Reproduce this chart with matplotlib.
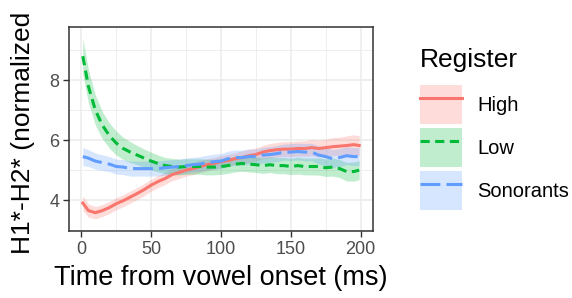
"""
H1*-H2* trajectories by register, with confidence ribbons (ggplot theme_bw look).
"""

import numpy as np
import matplotlib.pyplot as plt
from matplotlib.patches import Patch
from matplotlib.lines import Line2D
from matplotlib.ticker import MultipleLocator

plt.rcParams["font.family"] = ["Liberation Sans", "DejaVu Sans"]

# Data
time_ms = [1, 5, 10, 15, 20, 25, 30, 35, 40, 45, 50, 55, 60, 65, 70, 75, 80,
           85, 90, 95, 100, 105, 110, 115, 120, 125, 130, 135, 140, 145, 150,
           155, 160, 165, 170, 175, 180, 185, 190, 195, 199]

high = [3.90, 3.65, 3.58, 3.65, 3.75, 3.88, 3.98, 4.10, 4.22, 4.35, 4.50,
        4.62, 4.72, 4.85, 4.92, 5.00, 5.05, 5.12, 5.18, 5.22, 5.28, 5.32,
        5.38, 5.42, 5.48, 5.52, 5.60, 5.65, 5.68, 5.70, 5.70, 5.72, 5.72,
        5.75, 5.72, 5.75, 5.78, 5.80, 5.82, 5.85, 5.82]
high_ci = [0.25, 0.22, 0.2, 0.2, 0.2, 0.2, 0.2, 0.2, 0.2, 0.2, 0.2, 0.2, 0.2,
           0.2, 0.2, 0.2, 0.2, 0.2, 0.2, 0.2, 0.2, 0.2, 0.2, 0.22, 0.22, 0.22,
           0.22, 0.24, 0.24, 0.25, 0.25, 0.25, 0.26, 0.27, 0.28, 0.28, 0.3,
           0.3, 0.32, 0.33, 0.33]

low = [8.80, 7.80, 7.00, 6.50, 6.15, 5.90, 5.72, 5.60, 5.50, 5.40, 5.30,
       5.22, 5.15, 5.12, 5.10, 5.12, 5.12, 5.12, 5.10, 5.10, 5.12, 5.15,
       5.20, 5.22, 5.20, 5.18, 5.15, 5.18, 5.15, 5.15, 5.12, 5.15, 5.12,
       5.12, 5.12, 5.08, 5.10, 5.05, 4.95, 4.95, 5.00]
low_ci = [0.6, 0.55, 0.5, 0.45, 0.42, 0.4, 0.37, 0.35, 0.32, 0.3, 0.3, 0.28,
          0.27, 0.27, 0.26, 0.26, 0.26, 0.26, 0.26, 0.26, 0.26, 0.26, 0.26,
          0.26, 0.26, 0.26, 0.26, 0.26, 0.27, 0.27, 0.27, 0.28, 0.28, 0.28,
          0.29, 0.29, 0.3, 0.3, 0.31, 0.32, 0.32]

sonorants = [5.45, 5.40, 5.30, 5.25, 5.20, 5.12, 5.10, 5.05, 5.05, 5.05,
             5.05, 5.05, 5.08, 5.10, 5.12, 5.15, 5.18, 5.20, 5.25, 5.28,
             5.30, 5.38, 5.42, 5.42, 5.45, 5.45, 5.50, 5.52, 5.55, 5.60,
             5.60, 5.62, 5.60, 5.60, 5.50, 5.45, 5.38, 5.42, 5.48, 5.45, 5.45]
son_ci = [0.3, 0.28, 0.27, 0.26, 0.25, 0.25, 0.25, 0.25, 0.25, 0.25, 0.25,
          0.25, 0.25, 0.25, 0.25, 0.25, 0.25, 0.25, 0.25, 0.25, 0.25, 0.25,
          0.25, 0.25, 0.25, 0.25, 0.26, 0.26, 0.27, 0.27, 0.28, 0.28, 0.29,
          0.29, 0.3, 0.3, 0.3, 0.3, 0.3, 0.3, 0.3]

registers = ["High", "Low", "Sonorants"]
colors = ["#F8766D", "#00BA38", "#619CFF"]
dashes = [None, (3.0, 1.8), (6.5, 2.0)]

fig = plt.figure(figsize=(5.72, 2.98), dpi=100)
ax = fig.add_axes([0.1206, 0.225, 0.5315, 0.684])

t = np.array(time_ms)
series = [(high, high_ci), (low, low_ci), (sonorants, son_ci)]
for (mean, ci), col in zip(series, colors):
    m = np.array(mean)
    c = np.array(ci)
    ax.fill_between(t, m - c, m + c, color=col, alpha=0.25, lw=0, zorder=2)

handles = []
for (mean, ci), col, dash, name in zip(series, colors, dashes, registers):
    kw = dict(color=col, lw=2.2, zorder=3)
    if dash is not None:
        kw["dashes"] = dash
    ax.plot(t, mean, **kw)
    patch = Patch(facecolor=col, alpha=0.25, edgecolor="none")
    line = Line2D([], [], **kw)
    handles.append((patch, line))

ax.set_xlim(-8.9, 208.9)
ax.set_ylim(2.97, 9.77)
ax.xaxis.set_major_locator(MultipleLocator(50))
ax.xaxis.set_minor_locator(MultipleLocator(25))
ax.yaxis.set_major_locator(MultipleLocator(2))
ax.yaxis.set_minor_locator(MultipleLocator(1))
ax.grid(True, which="major", color="#EBEBEB", lw=1.1, zorder=0)
ax.grid(True, which="minor", color="#EBEBEB", lw=0.6, zorder=0)
ax.set_axisbelow(True)
for s in ax.spines.values():
    s.set_color("#333333")
    s.set_linewidth(1.1)
ax.tick_params(which="major", length=4, width=1.0, color="#333333",
               labelsize=13, labelcolor="#4D4D4D", pad=3)
ax.tick_params(which="minor", length=0)

ax.set_xlabel("Time from vowel onset (ms)", fontsize=19.5, labelpad=5)
ax.set_ylabel("H1*-H2* (normalized", fontsize=19)
ax.yaxis.set_label_coords(-0.112, 0.483)

leg = ax.legend(handles, registers, title="Register", loc="upper left",
                bbox_to_anchor=(1.153, 0.90), frameon=False, fontsize=14.5,
                title_fontsize=19, handlelength=2.1, handleheight=2.6,
                handletextpad=0.75, labelspacing=0.2, borderpad=0,
                borderaxespad=0)
leg._legend_box.align = "left"
leg._legend_box.sep = 10

fig.savefig("out.png", dpi=100)
plt.close(fig)
